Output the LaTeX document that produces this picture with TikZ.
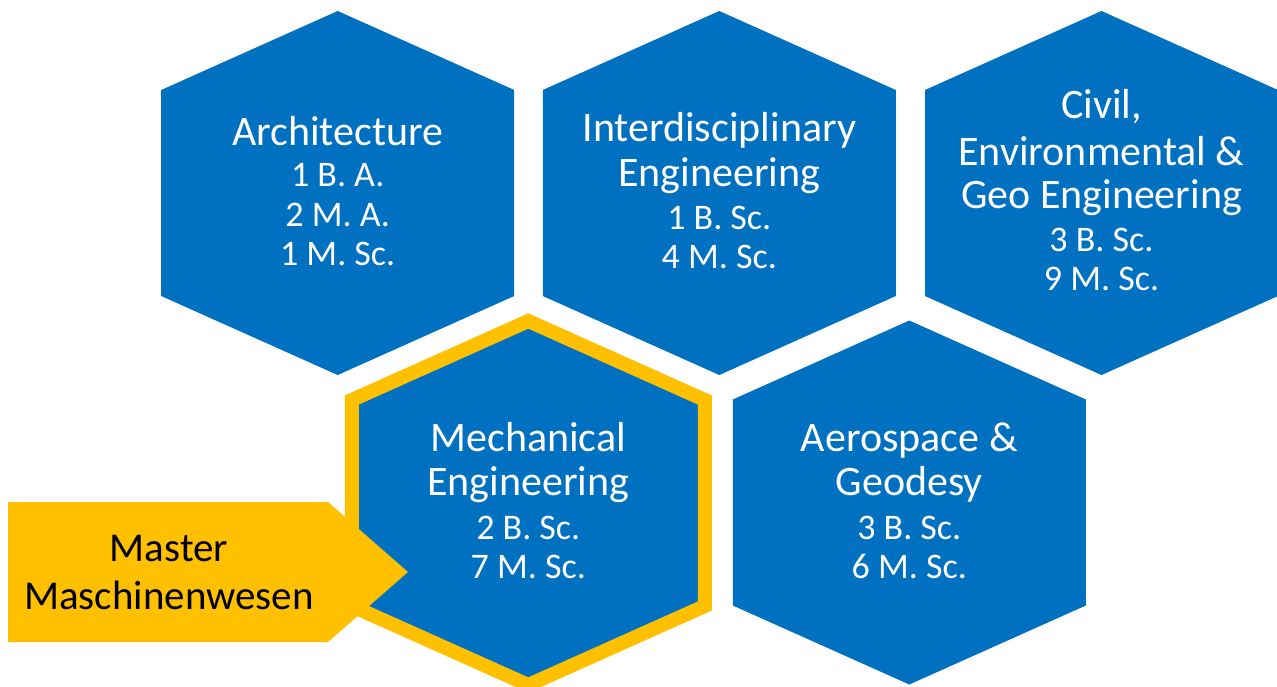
\documentclass[tikz,border=0pt]{standalone}
\usepackage{fontspec}
\setmainfont{Carlito}
\definecolor{hexblue}{HTML}{0070C0}
\definecolor{mwyellow}{HTML}{FFC000}
\tikzset{
  hexfill/.style={fill=hexblue},
  hexmark/.style={fill=hexblue, draw=mwyellow, line width=14pt, line join=miter},
  ttl/.style={anchor=base, inner sep=0pt, text=white, font=\fontsize{42}{50}\selectfont},
  deg/.style={anchor=base, inner sep=0pt, text=white, font=\fontsize{36}{42}\selectfont},
  mtxt/.style={anchor=base, inner sep=0pt, text=black, font=\fontsize{41}{48}\selectfont},
  arrowbox/.style={fill=mwyellow}
}
\newcommand\hexagonat[2]{(#1,#2-182) -- (#1+176.5,#2-103) -- (#1+176.5,#2+103) -- (#1,#2+182) -- (#1-176.5,#2+103) -- (#1-176.5,#2-103) -- cycle}
\begin{document}
\begin{tikzpicture}[x=1pt,y=-1pt]
\useasboundingbox (0,0) rectangle (1277,686);
% top row
\fill[hexfill] \hexagonat{337.7}{193};
\fill[hexfill] \hexagonat{719.3}{193};
\fill[hexfill] \hexagonat{1101.5}{193};
% bottom row
\filldraw[hexmark] \hexagonat{528.3}{503};
\fill[hexfill] \hexagonat{909.3}{502.5};
% arrow
\fill[arrowbox] (8,502) -- (328,502) -- (408,572) -- (328,642) -- (8,642) -- cycle;

% Architecture
\node[ttl] (arch1) at (337.7,145) {Architecture};
\node[deg] (arch2) at (337.7,186.7) {1 B. A.};
\node[deg] (arch3) at (337.7,226) {2 M. A.};
\node[deg] (arch4) at (337.7,265) {1 M. Sc.};
% Interdisciplinary
\node[ttl] (ide1) at (719.3,141.7) {Interdisciplinary};
\node[ttl] (ide2) at (719.3,186.7) {Engineering};
\node[deg] (ide3) at (719.3,229.3) {1 B. Sc.};
\node[deg] (ide4) at (719.3,268.3) {4 M. Sc.};
% Civil
\node[ttl] (civ1) at (1101.5,118.3) {Civil,};
\node[ttl] (civ2) at (1101.5,165) {Environmental \&};
\node[ttl] (civ3) at (1101.5,208.3) {Geo Engineering};
\node[deg] (civ4) at (1101.5,251.7) {3 B. Sc.};
\node[deg] (civ5) at (1101.5,290) {9 M. Sc.};
% Mechanical
\node[ttl] (mech1) at (528.3,451.7) {Mechanical};
\node[ttl] (mech2) at (528.3,495) {Engineering};
\node[deg] (mech3) at (528.3,539.3) {2 B. Sc.};
\node[deg] (mech4) at (528.3,578.3) {7 M. Sc.};
% Aerospace
\node[ttl] (aero1) at (909.3,451.7) {Aerospace \&};
\node[ttl] (aero2) at (909.3,495) {Geodesy};
\node[deg] (aero3) at (909.3,539.3) {3 B. Sc.};
\node[deg] (aero4) at (909.3,578.3) {6 M. Sc.};
% Master
\node[mtxt] (mast1) at (169,561) {Master};
\node[mtxt] (mast2) at (169,609.3) {Maschinenwesen};
\end{tikzpicture}
\end{document}
